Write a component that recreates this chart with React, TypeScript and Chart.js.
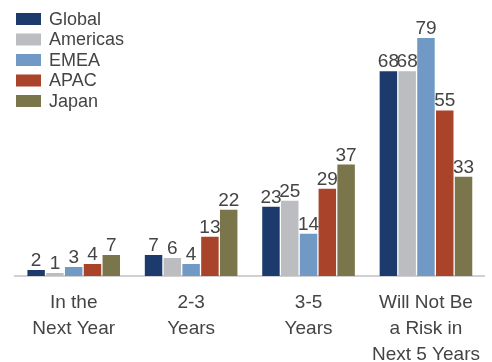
import React, { useEffect, useRef } from "react";
import { Chart, registerables } from "chart.js";

Chart.register(...registerables);

const categories: string[][] = [
  ["In the", "Next Year"],
  ["2-3", "Years"],
  ["3-5", "Years"],
  ["Will Not Be", "a Risk in", "Next 5 Years"],
];
const seriesNames = ["Global", "Americas", "EMEA", "APAC", "Japan"];
const globalValues = [2, 7, 23, 68];
const americasValues = [1, 6, 25, 68];
const emeaValues = [3, 4, 14, 79];
const apacValues = [4, 13, 29, 55];
const japanValues = [7, 22, 37, 33];
const colors = ["#1c3b6c", "#bbbdc1", "#7099c6", "#a9432a", "#7a754a"];

const FONT = "'Liberation Sans', Arial, sans-serif";
const TEXT_COLOR = "#444444";

const valueLabels = {
  id: "valueLabels",
  afterDatasetsDraw(chart: any) {
    const ctx = chart.ctx;
    ctx.save();
    ctx.font = `19px ${FONT}`;
    ctx.fillStyle = TEXT_COLOR;
    ctx.textAlign = "center";
    ctx.textBaseline = "alphabetic";
    chart.data.datasets.forEach((ds: any, di: number) => {
      const meta = chart.getDatasetMeta(di);
      meta.data.forEach((el: any, i: number) => {
        ctx.fillText(String(ds.data[i]), el.x, el.y - 4);
      });
    });
    ctx.restore();
  },
};

const sideLegend = {
  id: "sideLegend",
  afterDraw(chart: any) {
    const ctx = chart.ctx;
    ctx.save();
    ctx.font = `18px ${FONT}`;
    ctx.textAlign = "left";
    ctx.textBaseline = "middle";
    chart.data.datasets.forEach((ds: any, i: number) => {
      const y = 13 + i * 20.5;
      ctx.fillStyle = ds.backgroundColor;
      ctx.fillRect(16, y, 25, 12);
      ctx.fillStyle = TEXT_COLOR;
      ctx.fillText(ds.label, 49, y + 7);
    });
    ctx.restore();
  },
};

export default function App() {
  const ref = useRef<HTMLCanvasElement | null>(null);
  useEffect(() => {
    if (!ref.current) return;
    const values = [globalValues, americasValues, emeaValues, apacValues, japanValues];
    const chart = new Chart(ref.current, {
      type: "bar",
      data: {
        labels: categories,
        datasets: seriesNames.map((name, i) => ({
          label: name,
          data: values[i],
          backgroundColor: colors[i],
          categoryPercentage: 0.8,
          barPercentage: 0.93,
        })),
      },
      options: {
        animation: false,
        responsive: false,
        maintainAspectRatio: false,
        layout: { padding: { left: 15, right: 0, top: 5, bottom: 0 } },
        plugins: {
          legend: { display: false },
          tooltip: { enabled: false },
        },
        scales: {
          x: {
            grid: { display: false, drawTicks: false },
            border: { display: true, color: "#d0d0d0", width: 2 },
            ticks: {
              color: TEXT_COLOR,
              font: { family: FONT, size: 19, lineHeight: 26 / 19 },
              padding: 14,
              maxRotation: 0,
              autoSkip: false,
            },
          },
          y: {
            display: false,
            min: 0,
            max: 90,
          },
        },
      },
      plugins: [valueLabels, sideLegend],
    });
    return () => chart.destroy();
  }, []);
  return (
    <div
      style={{
        position: "fixed",
        left: 0,
        top: 0,
        width: 492,
        height: 362,
        overflow: "hidden",
        background: "#ffffff",
      }}
    >
      <canvas ref={ref} width={494} height={382} style={{ display: "block" }} />
    </div>
  );
}
